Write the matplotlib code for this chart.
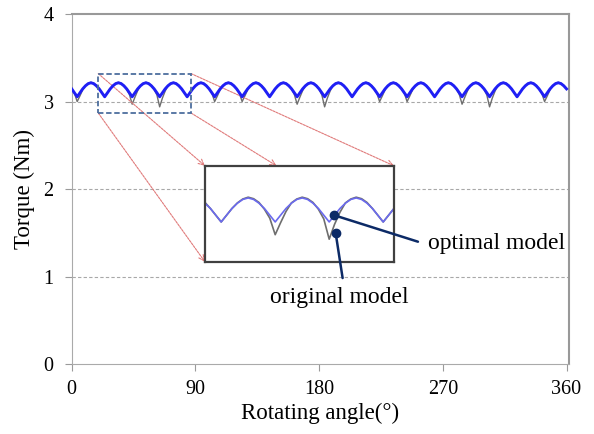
import numpy as np
import matplotlib
matplotlib.use('Agg')
from matplotlib import pyplot as plt

plt.rcParams['font.family'] = ['Liberation Serif', 'DejaVu Serif']

# rotating angle sampled every 2 degrees
angle = np.arange(0, 361, 2)

# torque of the optimal model (Nm), one row per 20 degree slot
optimal = [
    3.145, 3.10,
    3.055, 3.10, 3.145, 3.18, 3.205, 3.215, 3.205, 3.18, 3.145, 3.10,
    3.055, 3.10, 3.145, 3.18, 3.205, 3.215, 3.205, 3.18, 3.145, 3.10,
    3.055, 3.10, 3.145, 3.18, 3.205, 3.215, 3.205, 3.18, 3.145, 3.10,
    3.055, 3.10, 3.145, 3.18, 3.205, 3.215, 3.205, 3.18, 3.145, 3.10,
    3.055, 3.10, 3.145, 3.18, 3.205, 3.215, 3.205, 3.18, 3.145, 3.10,
    3.055, 3.10, 3.145, 3.18, 3.205, 3.215, 3.205, 3.18, 3.145, 3.10,
    3.055, 3.10, 3.145, 3.18, 3.205, 3.215, 3.205, 3.18, 3.145, 3.10,
    3.055, 3.10, 3.145, 3.18, 3.205, 3.215, 3.205, 3.18, 3.145, 3.10,
    3.055, 3.10, 3.145, 3.18, 3.205, 3.215, 3.205, 3.18, 3.145, 3.10,
    3.055, 3.10, 3.145, 3.18, 3.205, 3.215, 3.205, 3.18, 3.145, 3.10,
    3.055, 3.10, 3.145, 3.18, 3.205, 3.215, 3.205, 3.18, 3.145, 3.10,
    3.055, 3.10, 3.145, 3.18, 3.205, 3.215, 3.205, 3.18, 3.145, 3.10,
    3.055, 3.10, 3.145, 3.18, 3.205, 3.215, 3.205, 3.18, 3.145, 3.10,
    3.055, 3.10, 3.145, 3.18, 3.205, 3.215, 3.205, 3.18, 3.145, 3.10,
    3.055, 3.10, 3.145, 3.18, 3.205, 3.215, 3.205, 3.18, 3.145, 3.10,
    3.055, 3.10, 3.145, 3.18, 3.205, 3.215, 3.205, 3.18, 3.145, 3.10,
    3.055, 3.10, 3.145, 3.18, 3.205, 3.215, 3.205, 3.18, 3.145, 3.10,
    3.055, 3.10, 3.145, 3.18, 3.205, 3.215, 3.205, 3.18, 3.145,
]

# torque of the original model (Nm)
original = [
    3.145, 3.095,
    3.00, 3.065, 3.135, 3.182, 3.208, 3.22, 3.21, 3.185, 3.145, 3.10,
    3.055, 3.10, 3.145, 3.182, 3.208, 3.22, 3.21, 3.185, 3.14, 3.08,
    2.97, 3.05, 3.125, 3.182, 3.208, 3.22, 3.21, 3.185, 3.14, 3.075,
    2.94, 3.04, 3.12, 3.182, 3.208, 3.22, 3.21, 3.185, 3.145, 3.10,
    3.055, 3.10, 3.145, 3.182, 3.208, 3.22, 3.21, 3.185, 3.145, 3.095,
    3.00, 3.065, 3.135, 3.182, 3.208, 3.22, 3.21, 3.185, 3.145, 3.095,
    3.00, 3.065, 3.135, 3.182, 3.208, 3.22, 3.21, 3.185, 3.145, 3.10,
    3.055, 3.10, 3.145, 3.182, 3.208, 3.22, 3.21, 3.185, 3.14, 3.08,
    2.97, 3.05, 3.125, 3.182, 3.208, 3.22, 3.21, 3.185, 3.14, 3.075,
    2.94, 3.04, 3.12, 3.182, 3.208, 3.22, 3.21, 3.185, 3.145, 3.10,
    3.055, 3.10, 3.145, 3.182, 3.208, 3.22, 3.21, 3.185, 3.145, 3.095,
    3.00, 3.065, 3.135, 3.182, 3.208, 3.22, 3.21, 3.185, 3.145, 3.095,
    3.00, 3.065, 3.135, 3.182, 3.208, 3.22, 3.21, 3.185, 3.145, 3.10,
    3.055, 3.10, 3.145, 3.182, 3.208, 3.22, 3.21, 3.185, 3.14, 3.08,
    2.97, 3.05, 3.125, 3.182, 3.208, 3.22, 3.21, 3.185, 3.14, 3.075,
    2.94, 3.04, 3.12, 3.182, 3.208, 3.22, 3.21, 3.185, 3.145, 3.10,
    3.055, 3.10, 3.145, 3.182, 3.208, 3.22, 3.21, 3.185, 3.145, 3.095,
    3.00, 3.065, 3.135, 3.182, 3.208, 3.22, 3.21, 3.185, 3.145,
]

x_ticks = [0, 90, 180, 270, 360]
y_ticks = [0, 1, 2, 3, 4]

# zoomed window (angle range, torque range) and where the inset sits
zoom_x = [19.3, 86.8]
zoom_y = [2.87, 3.32]
inset_x = [96.9, 234.4]
inset_y = [1.171, 2.267]

fig = plt.figure(figsize=(5.94, 4.34), dpi=100)
ax = fig.add_axes([0.1207, 0.1606, 0.8370, 0.8071])

ax.plot(angle, original, color='#6e6e6e', lw=1.0, zorder=3)
ax.plot(angle, optimal, color='#1f1ff5', lw=2.1, zorder=4)

ax.set_xlim(0, 361.7)
ax.set_ylim(0, 4)
ax.set_xticks(x_ticks)
ax.set_yticks(y_ticks)
ax.tick_params(labelsize=14.5, colors='#9a9a9a', length=5, width=0.8, labelcolor='black')
ax.tick_params(axis='x', pad=6)
ax.tick_params(axis='y', pad=8)
for s in ['left', 'bottom']:
    ax.spines[s].set_color('#aaaaaa')
for s in ['top', 'right']:
    ax.spines[s].set_color('#999999')
    ax.spines[s].set_linewidth(1.5)
for yv in [1, 2, 3]:
    ax.axhline(yv, color='#a8a8a8', lw=0.8, ls=(0, (3, 2)), zorder=1)

ax.set_xlabel('Rotating angle(°)', fontsize=16.5, labelpad=3)
ax.set_ylabel('Torque (Nm)', fontsize=16.5, labelpad=6)

# dashed box round the zoomed window
ax.add_patch(plt.Rectangle((zoom_x[0], zoom_y[0]), zoom_x[1] - zoom_x[0], zoom_y[1] - zoom_y[0],
                           fill=False, ec='#4d6e9e', lw=1.3, ls=(0, (3, 1.5)), zorder=5))

# red arrows from the box to the inset
arrows = [((zoom_x[0], zoom_y[1]), (inset_x[0], inset_y[1])),
          ((zoom_x[0], zoom_y[0]), (inset_x[0], inset_y[0])),
          ((zoom_x[1], zoom_y[1]), (inset_x[1], inset_y[1])),
          ((zoom_x[1], zoom_y[0]), (149.0, inset_y[1]))]
for start, end in arrows:
    ax.annotate('', xy=end, xytext=start,
                arrowprops=dict(arrowstyle='->', color='#e07a7a', lw=0.8,
                                linestyle=(0, (2, 1)), shrinkA=0, shrinkB=0))

# inset
ax_in = fig.add_axes([0.3451, 0.3970, 0.3182, 0.2212])
ax_in.plot(angle, original, color='#6e6e6e', lw=1.2)
ax_in.plot(angle, optimal, color='#6a6aee', lw=1.2)
ax_in.set_xlim(18, 88)
ax_in.set_ylim(2.79, 3.43)
ax_in.set_xticks([])
ax_in.set_yticks([])
for s in ax_in.spines.values():
    s.set_color('#404040')
    s.set_linewidth(1.6)

navy = '#0c2a66'
# optimal model label
ax_in.plot([65.8], [3.10], 'o', color=navy, ms=6, clip_on=False, zorder=6)
ax_in.annotate('', xy=(65.8, 3.10), xytext=(251.9, 1.40), textcoords=ax.transData,
               arrowprops=dict(arrowstyle='-', color=navy, lw=1.8, shrinkA=0, shrinkB=0),
               annotation_clip=False)
ax.text(258.9, 1.385, 'optimal model', fontsize=17, va='center', ha='left')
# original model label
ax_in.plot([66.4], [2.98], 'o', color=navy, ms=6, clip_on=False, zorder=6)
ax_in.annotate('', xy=(66.4, 2.98), xytext=(197.1, 0.985), textcoords=ax.transData,
               arrowprops=dict(arrowstyle='-', color=navy, lw=1.8, shrinkA=0, shrinkB=0),
               annotation_clip=False)
ax.text(194.4, 0.768, 'original model', fontsize=17, va='center', ha='center')

plt.savefig('out.png', dpi=100)
